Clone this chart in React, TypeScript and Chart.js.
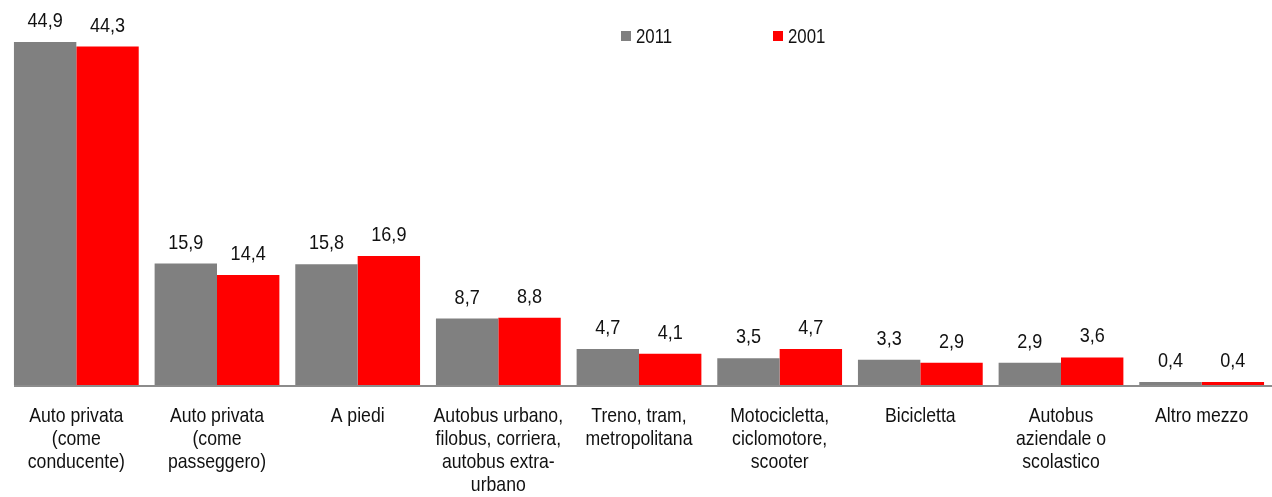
import React, { useEffect, useRef } from "react";
import { Chart, registerables } from "chart.js";

Chart.register(...registerables);

const categories: string[][] = [
  ["Auto privata", "(come", "conducente)"],
  ["Auto privata", "(come", "passeggero)"],
  ["A piedi"],
  ["Autobus urbano,", "filobus, corriera,", "autobus extra-", "urbano"],
  ["Treno, tram,", "metropolitana"],
  ["Motocicletta,", "ciclomotore,", "scooter"],
  ["Bicicletta"],
  ["Autobus", "aziendale o", "scolastico"],
  ["Altro mezzo"],
];
const series2011: number[] = [44.9, 15.9, 15.8, 8.7, 4.7, 3.5, 3.3, 2.9, 0.4];
const series2001: number[] = [44.3, 14.4, 16.9, 8.8, 4.1, 4.7, 2.9, 3.6, 0.4];
const seriesLabels: string[] = ["2011", "2001"];
const seriesColors: string[] = ["#808080", "#ff0000"];

const FONT = '"Liberation Sans", Arial, sans-serif';
const NARROW = 0.84;

const fmt = (v: number) => v.toFixed(1).replace(".", ",");

function narrowText(ctx: CanvasRenderingContext2D, text: string, x: number, y: number, sx: number) {
  ctx.save();
  ctx.translate(x, y);
  ctx.scale(sx, 1);
  ctx.fillText(text, 0, 0);
  ctx.restore();
}

const labelPlugin = {
  id: "valueLabels",
  afterDatasetsDraw(chart: any) {
    const ctx = chart.ctx;
    const area = chart.chartArea;
    ctx.save();
    // axis line
    ctx.strokeStyle = "#8c8c8c";
    ctx.lineWidth = 2;
    ctx.beginPath();
    ctx.moveTo(area.left + 8, area.bottom + 1);
    ctx.lineTo(area.right + 4, area.bottom + 1);
    ctx.stroke();

    ctx.font = `21px ${FONT}`;
    ctx.fillStyle = "#111";
    ctx.textAlign = "center";
    ctx.textBaseline = "alphabetic";
    chart.data.datasets.forEach((ds: any, di: number) => {
      const meta = chart.getDatasetMeta(di);
      meta.data.forEach((el: any, i: number) => {
        narrowText(ctx, fmt(ds.data[i]), el.x, el.y - 15, 0.86);
      });
    });

    // category labels
    const xs = chart.scales.x;
    ctx.font = `21px ${FONT}`;
    categories.forEach((lines, i) => {
      const x = xs.getPixelForTick(i);
      lines.forEach((line, k) => {
        narrowText(ctx, line, x, area.bottom + 37 + k * 23, NARROW);
      });
    });
    ctx.restore();
  },
};

const legendPlugin = {
  id: "customLegend",
  afterDraw(chart: any) {
    const ctx = chart.ctx;
    const area = chart.chartArea;
    ctx.save();
    ctx.font = `21px ${FONT}`;
    ctx.textBaseline = "alphabetic";
    ctx.textAlign = "left";
    const starts = [area.left + 615, area.left + 767];
    chart.data.datasets.forEach((ds: any, di: number) => {
      const x = starts[di];
      ctx.fillStyle = ds.backgroundColor;
      ctx.fillRect(x, 31, 10, 10);
      ctx.fillStyle = "#111";
      narrowText(ctx, ds.label, x + 15, 43, 0.8);
    });
    ctx.restore();
  },
};

export default function App() {
  const ref = useRef<HTMLCanvasElement | null>(null);
  useEffect(() => {
    if (!ref.current) return;
    const chart = new Chart(ref.current, {
      type: "bar",
      data: {
        labels: categories,
        datasets: [
          { label: seriesLabels[0], data: series2011, backgroundColor: seriesColors[0] },
          { label: seriesLabels[1], data: series2001, backgroundColor: seriesColors[1] },
        ],
      },
      options: {
        animation: false,
        responsive: false,
        maintainAspectRatio: false,
        layout: { padding: { left: 6, right: -3, top: 3, bottom: 0 } },
        plugins: {
          legend: { display: false },
          tooltip: { enabled: false },
        },
        datasets: {
          bar: { categoryPercentage: 0.887, barPercentage: 1.0 },
        },
        scales: {
          x: {
            grid: { display: false, drawTicks: false },
            border: { display: false },
            ticks: {
              color: "rgba(0,0,0,0)",
              font: { family: FONT, size: 10 },
              maxRotation: 0,
              autoSkip: false,
            },
            afterFit: (scale: any) => {
              scale.height = 112;
            },
          },
          y: {
            display: false,
            min: 0,
            max: 50,
          },
        },
      },
      plugins: [labelPlugin, legendPlugin],
    });
    return () => chart.destroy();
  }, []);
  return (
    <div style={{ position: "fixed", left: 0, top: 0, width: 1272, height: 497, background: "#fff" }}>
      <canvas ref={ref} width={1272} height={497} style={{ width: 1272, height: 497 }} />
    </div>
  );
}
